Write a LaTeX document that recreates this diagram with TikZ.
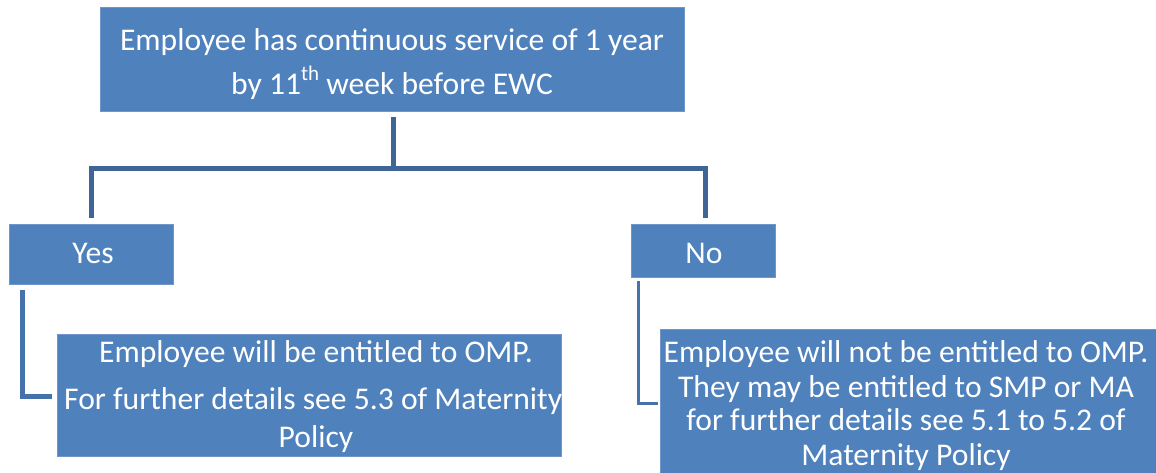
\documentclass[tikz,border=0pt]{standalone}
\usepackage{fontspec}
\setmainfont{Carlito}
\usetikzlibrary{calc}
\definecolor{boxfill}{HTML}{4F81BD}
\definecolor{boxedge}{HTML}{6F95C9}
\definecolor{linkdark}{HTML}{3F6597}
\definecolor{linkmid}{HTML}{4672AC}
\begin{document}
\begin{tikzpicture}[x=1pt,y=-1pt,
  box/.style={rectangle, fill=boxfill, draw=boxedge, line width=0.8pt, inner sep=0pt},
  txt/.style={text=white, inner sep=0pt, anchor=base, font=\fontsize{31.6}{38}\selectfont},
  conn/.style={draw=linkdark, line width=5pt},
  connb/.style={draw=linkmid, line width=4.5pt},
  connc/.style={draw=linkmid, line width=3pt}
]
\useasboundingbox (0,0) rectangle (1156,473);
\fill[white] (0,0) rectangle (1156,473);

% boxes
\node[box, minimum width=584pt, minimum height=104pt] (top) at (392,59) {};
\node[box, minimum width=164pt, minimum height=60pt] (yes) at (91,254) {};
\node[box, minimum width=144pt, minimum height=53pt] (no) at (703,250.5) {};
\node[box, minimum width=504pt, minimum height=122pt] (omp) at (309,395) {};
\node[box, minimum width=500pt, minimum height=149pt] (nomp) at (910,403.5) {};

% texts
\node[txt] (t1) at (392,51) {Employee has continuous service of 1 year};
\node[txt] (t2) at (392,95) {by 11\raisebox{14pt}{\fontsize{21}{21}\selectfont th} week before EWC};
\node[txt] (ty) at (93,263) {Yes};
\node[txt] (tn) at (704,263) {No};
\node[txt] (o1) at (316,362) {Employee will be entitled to OMP.};
\begin{scope}
\clip (omp.south west) rectangle (omp.north east);
\node[txt, anchor=base west] (o2) at (64,409) {For further details see 5.3 of Maternity};
\end{scope}
\node[txt] (o3) at (316,447) {Policy};
\node[txt] (n1) at (906,362) {Employee will not be entitled to OMP.};
\node[txt] (n2) at (906,397) {They may be entitled to SMP or MA};
\node[txt] (n3) at (906,430) {for further details see 5.1 to 5.2 of};
\node[txt] (n4) at (906,465) {Maternity Policy};

% connectors
\coordinate (split) at ($(top.south)+(1,57)$);
\draw[conn] ($(top.south)+(1,6)$) -- (split);
\draw[conn] ($(yes.north)+(0,-6)$) |- (split) -| ($(no.north)+(2,-6)$);
\draw[connb] ($(yes.south west)+(14,6)$) |- ($(omp.north west)+(-5,63)$);
\draw[connc] ($(no.south west)+(8,4)$) |- ($(nomp.north west)+(-2,75)$);
\end{tikzpicture}
\end{document}
